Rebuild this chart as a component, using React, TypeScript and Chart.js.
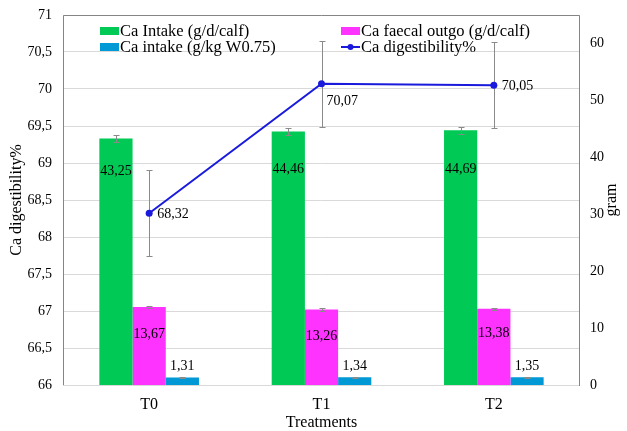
import React, { useEffect, useRef } from 'react';
import { Chart, registerables } from 'chart.js';

Chart.register(...registerables);

const categories = ['T0', 'T1', 'T2'];
const caIntake = [43.25, 44.46, 44.69];
const caIntakeErr = [0.6, 0.6, 0.6];
const caFaecal = [13.67, 13.26, 13.38];
const caFaecalErr = [0.2, 0.2, 0.2];
const caIntakeW = [1.31, 1.34, 1.35];
const caIntakeWErr = [0.05, 0.05, 0.05];
const caDig = [68.32, 70.07, 70.05];
const caDigErr = [0.58, 0.58, 0.58];
const leftTicks = [66, 66.5, 67, 67.5, 68, 68.5, 69, 69.5, 70, 70.5, 71];
const rightTicks = [0, 10, 20, 30, 40, 50, 60];

const GREEN = '#00C955';
const MAGENTA = '#FF33FF';
const BLUE = '#0099D6';
const LINE = '#1A1ADC';
const FONT = '"Liberation Serif", "Times New Roman", serif';

Chart.defaults.font.family = FONT;
Chart.defaults.color = '#000';

const fmt = (v: number) => v.toFixed(2).replace('.', ',');

const overlay = {
  id: 'overlay',
  beforeDatasetsDraw(chart: any) {
    const { ctx, chartArea: ca } = chart;
    ctx.save();
    ctx.strokeStyle = '#D9D9D9';
    ctx.lineWidth = 1;
    ctx.beginPath();
    ctx.moveTo(ca.left, Math.round(ca.bottom) + 0.5);
    ctx.lineTo(ca.right, Math.round(ca.bottom) + 0.5);
    ctx.stroke();
    ctx.strokeStyle = '#858585';
    ctx.beginPath();
    ctx.moveTo(Math.round(ca.left) + 0.5, Math.round(ca.bottom));
    ctx.lineTo(Math.round(ca.left) + 0.5, Math.round(ca.top) + 0.5);
    ctx.lineTo(Math.round(ca.right) - 0.5, Math.round(ca.top) + 0.5);
    ctx.lineTo(Math.round(ca.right) - 0.5, Math.round(ca.bottom) + 1);
    ctx.stroke();
    ctx.restore();
  },
  beforeDatasetDraw(chart: any, args: any) {
    const ds = chart.data.datasets[args.index];
    if (ds.type === 'line') drawErrors(chart, args.index, 3);
  },
  afterDatasetDraw(chart: any, args: any) {
    const ds = chart.data.datasets[args.index];
    if (ds.type !== 'line') drawErrors(chart, args.index, 3);
  },
  afterDraw(chart: any) {
    const { ctx } = chart;
    ctx.save();
    // data labels
    ctx.font = `14px ${FONT}`;
    ctx.fillStyle = '#000';
    ctx.textBaseline = 'middle';
    chart.data.datasets.forEach((ds: any, di: number) => {
      const meta = chart.getDatasetMeta(di);
      meta.data.forEach((el: any, i: number) => {
        const txt = fmt(ds.data[i]);
        if (ds.type === 'line') {
          ctx.textAlign = 'left';
          if (i === 1) ctx.fillText(txt, el.x + 5, el.y + 18);
          else ctx.fillText(txt, el.x + 8, el.y + 1);
        } else {
          ctx.textAlign = 'center';
          const off = ds.labelOffset[i];
          ctx.fillText(txt, el.x, el.y + off);
        }
      });
    });
    // legend
    ctx.font = `16.5px ${FONT}`;
    ctx.textAlign = 'left';
    const items = [
      { label: 'Ca Intake (g/d/calf)', color: GREEN, x: 100, y: 31, kind: 'box' },
      { label: 'Ca faecal outgo (g/d/calf)', color: MAGENTA, x: 341, y: 31, kind: 'box' },
      { label: 'Ca intake (g/kg W0.75)', color: BLUE, x: 100, y: 47, kind: 'box' },
      { label: 'Ca digestibility%', color: LINE, x: 341, y: 47, kind: 'line' },
    ];
    items.forEach((it) => {
      if (it.kind === 'box') {
        ctx.fillStyle = it.color;
        ctx.fillRect(it.x, it.y - 4, 19, 8);
      } else {
        ctx.strokeStyle = it.color;
        ctx.lineWidth = 2;
        ctx.beginPath();
        ctx.moveTo(it.x, it.y);
        ctx.lineTo(it.x + 19, it.y);
        ctx.stroke();
        ctx.fillStyle = it.color;
        ctx.beginPath();
        ctx.arc(it.x + 9.5, it.y, 3, 0, Math.PI * 2);
        ctx.fill();
      }
      ctx.fillStyle = '#000';
      ctx.fillText(it.label, it.x + 20, it.y + 1);
    });
    // right axis title
    ctx.font = `16px ${FONT}`;
    ctx.translate(612, 200);
    ctx.rotate(-Math.PI / 2);
    ctx.textAlign = 'center';
    ctx.fillText('gram', 0, 0);
    ctx.restore();
  },
};

function drawErrors(chart: any, di: number, cap: number) {
  const { ctx } = chart;
  const ds = chart.data.datasets[di];
  const meta = chart.getDatasetMeta(di);
  const scale = chart.scales[meta.yAxisID];
  ctx.save();
  ctx.strokeStyle = '#8A8A8A';
  ctx.lineWidth = 1;
  meta.data.forEach((el: any, i: number) => {
    const v = ds.data[i];
    const e = ds.errors[i];
    const x = Math.round(el.x) + 0.5;
    const yT = Math.round(scale.getPixelForValue(v + e)) + 0.5;
    const yB = Math.round(scale.getPixelForValue(v - e)) + 0.5;
    ctx.beginPath();
    ctx.moveTo(x, yT);
    ctx.lineTo(x, yB);
    ctx.moveTo(x - cap, yT);
    ctx.lineTo(x + cap, yT);
    ctx.moveTo(x - cap, yB);
    ctx.lineTo(x + cap, yB);
    ctx.stroke();
  });
  ctx.restore();
}

const vFit = (w: number) => (s: any) => {
  s.width = w;
  s.paddingTop = 0;
  s.paddingBottom = 0;
};

export default function App() {
  const ref = useRef<HTMLCanvasElement>(null);
  useEffect(() => {
    if (!ref.current) return;
    const chart = new Chart(ref.current, {
      type: 'bar',
      data: {
        labels: categories,
        datasets: [
          {
            type: 'line',
            label: 'Ca digestibility%',
            data: caDig,
            errors: caDigErr,
            yAxisID: 'y',
            borderColor: LINE,
            backgroundColor: LINE,
            borderWidth: 2,
            pointRadius: 3.5,
            pointBackgroundColor: LINE,
            pointBorderWidth: 0,
            order: 0,
          } as any,
          {
            type: 'bar',
            label: 'Ca Intake (g/d/calf)',
            data: caIntake,
            errors: caIntakeErr,
            labelOffset: [33, 38, 39],
            yAxisID: 'y1',
            backgroundColor: GREEN,
            order: 1,
          } as any,
          {
            type: 'bar',
            label: 'Ca faecal outgo (g/d/calf)',
            data: caFaecal,
            errors: caFaecalErr,
            labelOffset: [27, 27, 25],
            yAxisID: 'y1',
            backgroundColor: MAGENTA,
            order: 1,
          } as any,
          {
            type: 'bar',
            label: 'Ca intake (g/kg W0.75)',
            data: caIntakeW,
            errors: caIntakeWErr,
            labelOffset: [-11, -11, -11],
            yAxisID: 'y1',
            backgroundColor: BLUE,
            order: 1,
          } as any,
        ],
      },
      options: {
        responsive: false,
        animation: false,
        devicePixelRatio: 1,
        layout: { padding: { top: 15, left: 0, right: 0, bottom: 0 } },
        datasets: { bar: { barPercentage: 1, categoryPercentage: 0.578 } },
        plugins: { legend: { display: false }, tooltip: { enabled: false } },
        scales: {
          x: {
            grid: { display: false, drawTicks: false },
            border: { display: false },
            ticks: { color: '#000', font: { family: FONT, size: 16 }, padding: 10 },
            title: {
              display: true,
              text: 'Treatments',
              color: '#000',
              font: { family: FONT, size: 16 },
              padding: { top: 0, bottom: -1 },
            },
            afterFit: (s: any) => { s.height = 46; s.paddingLeft = 0; s.paddingRight = 0; },
          },
          y: {
            position: 'left',
            min: 66,
            max: 71,
            afterBuildTicks: (s: any) => { s.ticks = leftTicks.map((v) => ({ value: v })); },
            grid: { color: '#D9D9D9', drawTicks: false },
            border: { display: false },
            ticks: {
              color: '#000',
              font: { family: FONT, size: 14 },
              padding: 11,
              callback: (v: any) => String(v).replace('.', ','),
            },
            title: {
              display: true,
              text: 'Ca digestibility%',
              color: '#000',
              font: { family: FONT, size: 16 },
              padding: { top: 7, bottom: 0 },
            },
            afterFit: vFit(63),
          },
          y1: {
            position: 'right',
            min: 0,
            max: 64.9,
            afterBuildTicks: (s: any) => { s.ticks = rightTicks.map((v) => ({ value: v })); },
            grid: { display: false, drawTicks: false },
            border: { display: false },
            ticks: { color: '#000', font: { family: FONT, size: 14 }, padding: 10 },
            afterFit: vFit(47),
          },
        },
      } as any,
      plugins: [overlay],
    });
    return () => chart.destroy();
  }, []);
  return (
    <div style={{ position: 'absolute', left: 0, top: 0, width: 627, height: 431, background: '#fff' }}>
      <canvas ref={ref} width={627} height={431} />
    </div>
  );
}
